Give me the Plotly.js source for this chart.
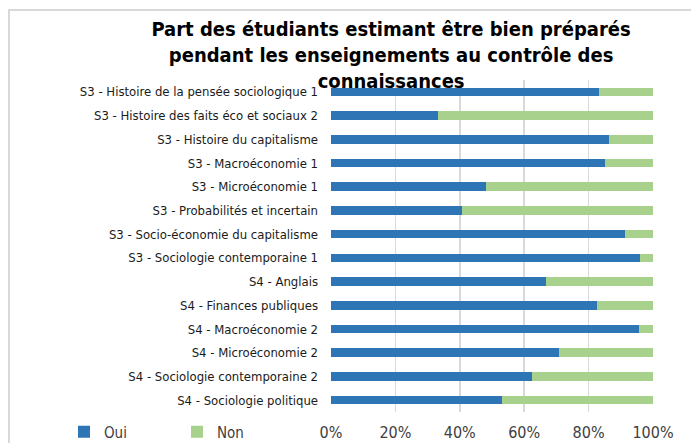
<!DOCTYPE html>
<html>
<head>
<meta charset="utf-8">
<script src="https://cdn.plot.ly/plotly-3.0.1.min.js"></script>
<style>
  html, body { margin: 0; padding: 0; background: #fff; }
  #wrap { position: relative; width: 691px; height: 443px; overflow: hidden; }
  #chart { position: absolute; left: 0; top: 0; width: 691px; height: 443px; }
  #frame { position: absolute; left: 8px; top: 9px; width: 720px; height: 480px;
           border-left: 2px solid #d9d9d9; border-top: 2px solid #d9d9d9; pointer-events: none; }
</style>
</head>
<body>
<div id="wrap">
  <div id="chart"></div>
  <div id="frame"></div>
</div>
<script>
const categories = [
  "S3 - Histoire de la pensée sociologique 1",
  "S3 - Histoire des faits éco et sociaux 2",
  "S3 - Histoire du capitalisme",
  "S3 - Macroéconomie 1",
  "S3 - Microéconomie 1",
  "S3 - Probabilités et incertain",
  "S3 - Socio-économie du capitalisme",
  "S3 - Sociologie contemporaine 1",
  "S4 - Anglais",
  "S4 - Finances publiques",
  "S4 - Macroéconomie 2",
  "S4 - Microéconomie 2",
  "S4 - Sociologie contemporaine 2",
  "S4 - Sociologie politique"
];
const oui = [83.3, 33.3, 86.2, 85.0, 48.0, 40.6, 91.2, 96.0, 66.7, 82.5, 95.8, 70.8, 62.5, 53.1];
const non = [16.7, 66.7, 13.8, 15.0, 52.0, 59.4, 8.8, 4.0, 33.3, 17.5, 4.2, 29.2, 37.5, 46.9];
const seriesNames = ["Oui", "Non"];
const xTicks = [0, 20, 40, 60, 80, 100];
const titleText = "Part des étudiants estimant être bien préparés<br>pendant les enseignements au contrôle des<br>connaissances";

const FONT = "'DejaVu Sans Condensed', 'DejaVu Sans', sans-serif";

const traces = [
  { type: 'bar', orientation: 'h', name: seriesNames[0], y: categories, x: oui,
    marker: { color: '#2E75B6' }, hoverinfo: 'skip' },
  { type: 'bar', orientation: 'h', name: seriesNames[1], y: categories, x: non,
    marker: { color: '#A9D18E' }, hoverinfo: 'skip' }
];

const layout = {
  width: 691, height: 443,
  margin: { l: 331, r: 38, t: 80, b: 31, pad: 0, autoexpand: false },
  paper_bgcolor: '#ffffff', plot_bgcolor: '#ffffff',
  barmode: 'stack',
  bargap: 0.64,
  showlegend: true,
  title: {
    text: titleText,
    font: { family: FONT, size: 20, color: '#000000', weight: 'bold' },
    x: 0.566, xref: 'container', xanchor: 'center',
    y: 0.918, yref: 'container', yanchor: 'top'
  },
  xaxis: {
    range: [0, 100], tickvals: xTicks, ticktext: xTicks.map(v => v + '%'),
    showgrid: true, gridcolor: '#d9d9d9', gridwidth: 1.5,
    zeroline: false, showline: false, ticks: '',
    ticklabelstandoff: 9,
    tickfont: { family: FONT, size: 16, color: '#404040' },
    fixedrange: true
  },
  yaxis: {
    type: 'category', autorange: 'reversed',
    showgrid: false, zeroline: false, showline: false, ticks: '',
    ticklabelstandoff: 12,
    tickfont: { family: FONT, size: 13, color: '#1a1a1a' },
    fixedrange: true
  },
  legend: {
    orientation: 'h', xref: 'container', yref: 'container',
    x: 64 / 691, xanchor: 'left', y: 11 / 443, yanchor: 'middle',
    bgcolor: 'rgba(0,0,0,0)',
    font: { family: FONT, size: 15, color: '#404040' },
    itemwidth: 30, entrywidth: 68, traceorder: 'normal'
  }
};

Plotly.newPlot('chart', traces, layout, { displayModeBar: false, staticPlot: true });
</script>
</body>
</html>
